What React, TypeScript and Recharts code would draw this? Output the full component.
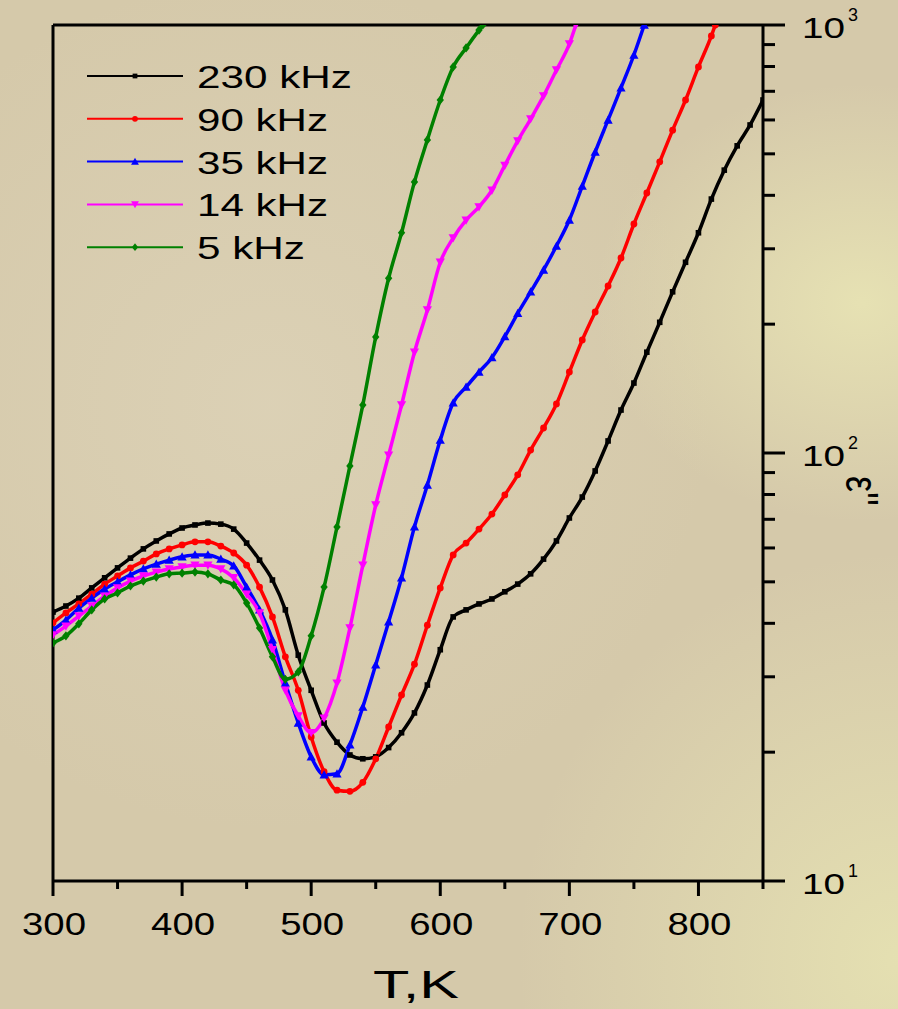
import React from 'react';
import { LineChart, Line, XAxis, YAxis, Legend, ReferenceLine, Label } from 'recharts';

// temperature grid (K), shared by all curves
const temps = [
  300, 310, 320, 330, 340, 350, 360, 370, 380, 390,
  400, 410, 420, 430, 440, 450, 460, 470, 480, 490,
  500, 510, 520, 530, 540, 550, 560, 570, 580, 590,
  600, 610, 620, 630, 640, 650, 660, 670, 680, 690,
  700, 710, 720, 730, 740, 750, 760, 770, 780, 790,
  800, 810, 820, 830, 840, 850,
];

// eps'', one value per grid temperature
const eps230 = [
  42.5, 43.9, 45.8, 48.4, 51.1, 53.9, 56.8, 59.7, 62.3, 64.7,
  66.8, 67.9, 68.6, 68.2, 66.4, 61.6, 56.2, 50.5, 43.0, 33.7,
  27.9, 23.4, 21.1, 19.7, 19.3, 19.5, 20.5, 22.2, 24.7, 28.7,
  34.7, 41.4, 43.0, 44.4, 45.6, 47.4, 49.4, 52.2, 56.5, 62.3,
  70.5, 78.9, 90.8, 106.7, 126, 145.7, 172, 202, 238, 279,
  327, 392, 458, 522, 584, 668,
];
const eps90 = [
  40.1, 42.3, 44.4, 46.8, 49.4, 51.6, 53.9, 55.9, 58.1, 59.7,
  61.0, 62.0, 62.0, 60.6, 58.4, 54.7, 48.6, 41.4, 33.4, 27.9,
  21.7, 18.0, 16.3, 16.2, 17.0, 19.3, 22.9, 27.2, 32.1, 39.6,
  48.4, 57.8, 61.6, 66.4, 72.0, 79.8, 88.9, 101.6, 114.4, 130.2,
  154.6, 183.7, 213.5, 245.6, 285.5, 342.8, 405, 479, 568, 668,
  798, 943,
];
const eps35 = [
  38.6, 40.7, 43.4, 45.8, 48.1, 50.0, 51.9, 53.6, 55.0, 56.2,
  57.2, 57.8, 57.8, 56.5, 54.5, 48.6, 43.0, 36.6, 29.0, 23.4,
  19.5, 17.7, 17.8, 20.8, 25.5, 32.0, 40.3, 51.1, 67.2, 84.2,
  107.2, 131, 142.6, 154.6, 167, 187, 212, 238, 267.7, 304.5,
  350.3, 420.5, 505, 600, 713, 851,
];
const eps14 = [
  37.6, 39.4, 41.6, 43.9, 46.3, 48.4, 50.2, 51.6, 52.7, 53.6,
  54.2, 54.7, 54.7, 53.6, 51.1, 46.8, 42.3, 34.7, 27.9, 24.3,
  22.2, 24.0, 29.0, 39.0, 54.7, 75.6, 98.9, 129.5, 172, 215.9,
  279, 318, 350, 376, 411, 470, 536, 603, 683, 785,
  903,
];
const eps5 = [
  36.0, 37.4, 39.9, 43.0, 45.6, 47.1, 48.9, 50.2, 51.3, 52.2,
  52.4, 52.7, 52.2, 50.5, 49.2, 44.6, 39.0, 33.4, 29.6, 30.8,
  37.4, 48.6, 67.2, 93.3, 129.5, 186.7, 256, 327, 430, 539,
  668, 798, 884, 973,
];

// temperature where a curve leaves the frame through the 10^3 line (0 = it does not)
const topExitT = [0, 813, 758, 705, 633];

const seriesNames = ['230 kHz', '90 kHz', '35 kHz', '14 kHz', '5 kHz'];
const seriesValues = [eps230, eps90, eps35, eps14, eps5];
const seriesColors = ['#000000', '#ff0000', '#0000ff', '#ff00ff', '#008000'];
const seriesMarkers = ['square', 'circle', 'up', 'down', 'diamond'];

const xTicks = [300, 350, 400, 450, 500, 550, 600, 650, 700, 750, 800, 850];
const yTicks = [
  10, 20, 30, 40, 50, 60, 70, 80, 90,
  100, 200, 300, 400, 500, 600, 700, 800, 900, 1000,
];

const FONT = '"Liberation Sans", Arial, sans-serif';

const toPoints = (vals: number[], exitT: number) => {
  const pts = vals.map((v, i) => ({ T: temps[i], eps: v }));
  if (exitT) pts.push({ T: exitT, eps: 1000 });
  return pts;
};

const Marker = ({ shape, cx, cy, color, s = 1 }: any) => {
  if (shape === 'square') {
    return <rect x={cx - 2.8 * s} y={cy - 2.8 * s} width={5.6 * s} height={5.6 * s} fill={color} />;
  }
  if (shape === 'circle') {
    return <circle cx={cx} cy={cy} r={3.4 * s} fill={color} />;
  }
  const r = 4.6 * s;
  if (shape === 'up') {
    return <polygon points={`${cx},${cy - r} ${cx + r},${cy + r * 0.8} ${cx - r},${cy + r * 0.8}`} fill={color} />;
  }
  if (shape === 'down') {
    return <polygon points={`${cx},${cy + r} ${cx + r},${cy - r * 0.8} ${cx - r},${cy - r * 0.8}`} fill={color} />;
  }
  return <polygon points={`${cx},${cy - r} ${cx + r * 0.8},${cy} ${cx},${cy + r} ${cx - r * 0.8},${cy}`} fill={color} />;
};

const makeDot = (shape: string, color: string) => (p: any) => (
  <Marker key={`${shape}-${p.index}`} shape={shape} cx={p.cx} cy={p.cy} color={color} />
);

const XTick = ({ x, y, payload }: any) => {
  const v = payload.value;
  const major = v % 100 === 0;
  return (
    <g>
      <line x1={x} x2={x} y1={y} y2={y + (major ? 15 : 8)} stroke="#000" strokeWidth={3} />
      {major && (
        <text x={x + 1} y={y + 54} textAnchor="middle" fontSize={31} fontFamily={FONT} fill="#000"
          textLength={64} lengthAdjust="spacingAndGlyphs">
          {v}
        </text>
      )}
    </g>
  );
};

const YTick = ({ x, y, payload }: any) => {
  const v = payload.value;
  const lg = Math.log10(v);
  const exp = Math.round(lg);
  const major = Math.abs(lg - exp) < 1e-6;
  return (
    <g>
      <line x1={x} x2={x + (major ? 22 : 12)} y1={y} y2={y} stroke="#000" strokeWidth={3} />
      {major && (
        <g fontFamily={FONT} fill="#000">
          <text x={x + 39} y={y + 13} fontSize={30} textLength={43} lengthAdjust="spacingAndGlyphs">10</text>
          <text x={x + 85} y={y - 4} fontSize={18} textLength={10} lengthAdjust="spacingAndGlyphs">{exp}</text>
        </g>
      )}
    </g>
  );
};

const legendTextWidths = [155, 131, 131, 131, 108];

const LegendBox = ({ payload }: any) => (
  <svg width={420} height={280} style={{ display: 'block' }}>
    {(payload || []).map((entry: any) => {
      const k = seriesNames.indexOf(entry.value);
      const y = 76 + k * 42.8;
      const color = seriesColors[k];
      return (
        <g key={entry.value}>
          <line x1={87} x2={183} y1={y} y2={y} stroke={color} strokeWidth={2} />
          <Marker shape={seriesMarkers[k]} cx={135} cy={y} color={color} s={0.85} />
          <text x={197} y={y + 12} fontSize={32} fontFamily={FONT} fill="#000"
            textLength={legendTextWidths[k]} lengthAdjust="spacingAndGlyphs">
            {entry.value}
          </text>
        </g>
      );
    })}
  </svg>
);

const EpsTitle = () => (
  <text transform="translate(846,476) scale(1.3,1) rotate(90)" x={0} y={0}
    fontSize={36} fontFamily={FONT} fill="#000">
    ε''
  </text>
);

const TTitle = ({ viewBox }: any) => (
  <text x={viewBox.x + viewBox.width / 2 + 8} y={998} textAnchor="middle" fontSize={38}
    fontFamily={FONT} fill="#000" textLength={86} lengthAdjust="spacingAndGlyphs">
    T,K
  </text>
);

export default function App() {
  return (
    <div
      style={{
        position: 'absolute',
        left: 0,
        top: 0,
        width: 898,
        height: 1009,
        overflow: 'hidden',
        backgroundColor: '#d5c9aa',
        backgroundImage:
          'radial-gradient(ellipse at 96% 30%, rgba(232,228,180,0.9) 0%, rgba(232,228,180,0) 22%),' +
          'radial-gradient(ellipse at 100% 95%, rgba(230,226,178,0.9) 0%, rgba(230,226,178,0) 30%),' +
          'radial-gradient(ellipse at 30% 40%, rgba(222,212,186,0.7) 0%, rgba(222,212,186,0) 50%)',
      }}
    >
      <LineChart width={898} height={1009} margin={{ top: 25, right: 55, bottom: 68, left: 53 }}>
        <XAxis
          type="number"
          dataKey="T"
          domain={[300, 850]}
          ticks={xTicks}
          interval={0}
          allowDataOverflow
          height={60}
          tickSize={0}
          tickMargin={0}
          tickLine={false}
          axisLine={{ stroke: '#000', strokeWidth: 3 }}
          tick={<XTick />}
        >
          <Label content={<TTitle />} />
        </XAxis>
        <YAxis
          orientation="right"
          scale="log"
          domain={[10, 1000]}
          ticks={yTicks}
          interval={0}
          allowDataOverflow
          width={80}
          tickSize={0}
          tickMargin={0}
          tickLine={false}
          axisLine={{ stroke: '#000', strokeWidth: 3 }}
          tick={<YTick />}
        >
          <Label content={<EpsTitle />} />
        </YAxis>
        <ReferenceLine x={300} stroke="#000" strokeWidth={3} />
        <ReferenceLine y={1000} stroke="#000" strokeWidth={3} />
        {seriesNames.map((name, k) => (
          <Line
            key={name}
            name={name}
            data={toPoints(seriesValues[k], topExitT[k])}
            dataKey="eps"
            type="monotone"
            stroke={seriesColors[k]}
            strokeWidth={3.5}
            dot={makeDot(seriesMarkers[k], seriesColors[k])}
            activeDot={false}
            isAnimationActive={false}
          />
        ))}
        <Legend
          layout="vertical"
          align="center"
          verticalAlign="middle"
          content={<LegendBox />}
          wrapperStyle={{ left: 0, top: 0, width: 420, height: 280 }}
        />
      </LineChart>
    </div>
  );
}
